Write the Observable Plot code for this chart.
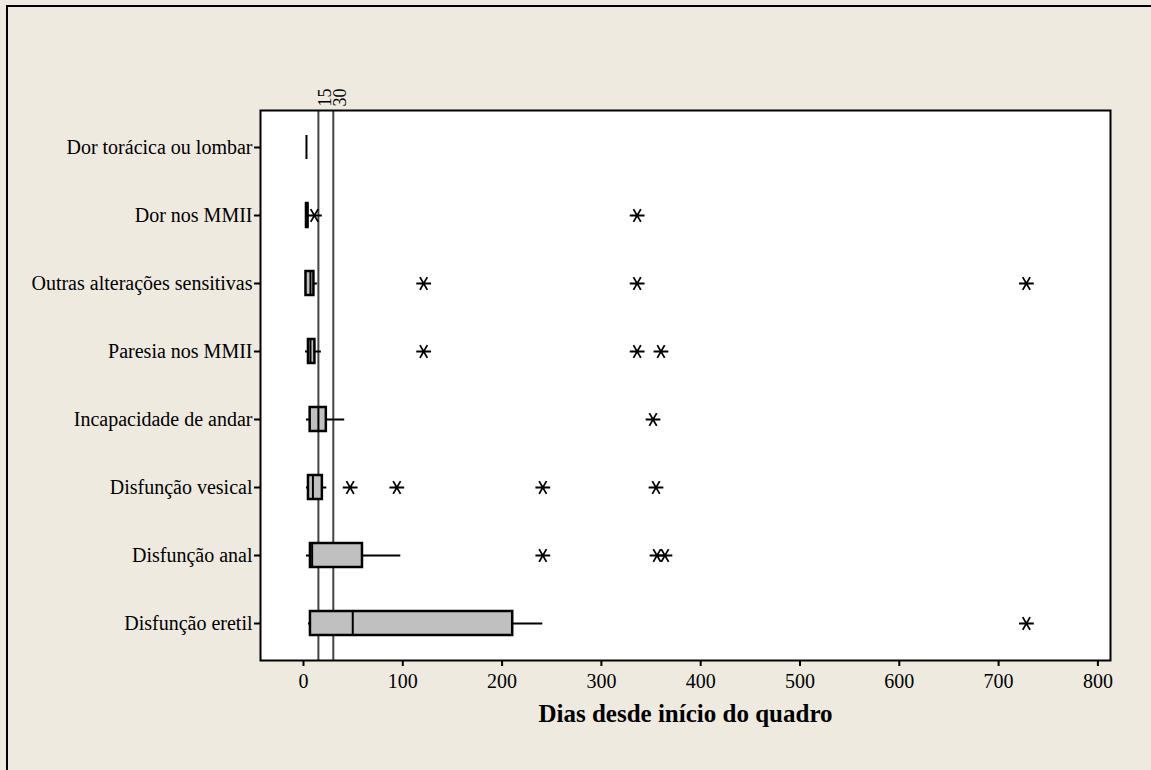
<!DOCTYPE html>
<html>
<head>
<meta charset="utf-8">
<script src="https://cdn.jsdelivr.net/npm/d3@7"></script>
<script src="https://cdn.jsdelivr.net/npm/@observablehq/plot@0.6"></script>
<style>
  html, body { margin: 0; padding: 0; background: #EEEAE0; width: 1151px; height: 770px; overflow: hidden; }
  #frame { position: absolute; left: 6px; top: 5px; width: 1300px; height: 900px; border-left: 2px solid #000; border-top: 2px solid #000; }
  #chart { position: absolute; left: 0; top: 0; }
  #chart svg text { font-family: 'Liberation Serif', 'Times New Roman', serif; }
</style>
</head>
<body>
<div id="frame"></div>
<div id="chart"></div>
<script>
const categories = [
  "Dor torácica ou lombar",
  "Dor nos MMII",
  "Outras alterações sensitivas",
  "Paresia nos MMII",
  "Incapacidade de andar",
  "Disfunção vesical",
  "Disfunção anal",
  "Disfunção eretil"
];
const whiskerLow  = [3, 3, 2.5, 2, 3, 3, 3, 5];
const q1          = [3, 3, 2.5, 5, 6.7, 5, 7, 7];
const median      = [3, 4, 7, 7, 15, 9.5, 8.7, 49.6];
const q3          = [3, 4.5, 10.5, 11.5, 23, 19, 59.4, 210.7];
const whiskerHigh = [3, 4.5, 14, 18, 41.5, 23.5, 98, 241];
const outliers = [
  [],
  [11, 336],
  [121, 336, 728],
  [121, 336, 360],
  [352],
  [47, 94, 241, 355],
  [241, 356, 364],
  [728]
];
const referenceLines = [15, 30];
const xTicks = [0, 100, 200, 300, 400, 500, 600, 700, 800];
const xLabel = "Dias desde início do quadro";

const boxes = categories.map((c, i) => ({
  cat: c, lo: whiskerLow[i], q1: q1[i], med: median[i], q3: q3[i], hi: whiskerHigh[i]
}));
const outlierRows = categories.flatMap((c, i) => outliers[i].map(v => ({cat: c, v})));

const serif = "'Liberation Serif', 'Times New Roman', serif";
const bandInset = 22;

const chart = Plot.plot({
  width: 1151,
  height: 770,
  marginLeft: 260,
  marginRight: 41,
  marginTop: 110,
  marginBottom: 110,
  style: { background: "transparent", fontFamily: serif, fontSize: "20px", color: "#000" },
  x: { domain: [-43.3, 812.7] },
  y: { domain: categories, padding: 0 },
  marks: [
    Plot.frame({ fill: "#ffffff", stroke: "none" }),
    Plot.ruleX(referenceLines, { stroke: "#444", strokeWidth: 2 }),
    Plot.text(referenceLines, {
      x: d => d, text: d => String(d), frameAnchor: "top", rotate: -90,
      textAnchor: "start", dy: -4, fontSize: 18, fill: "#000"
    }),
    Plot.ruleY(boxes, { y: "cat", x1: "lo", x2: "hi", stroke: "#000", strokeWidth: 2 }),
    Plot.barX(boxes, {
      y: "cat", x1: "q1", x2: "q3", fill: "#c0c0c0", stroke: "#000", strokeWidth: 2.5,
      insetTop: bandInset, insetBottom: bandInset
    }),
    Plot.tickX(boxes, {
      y: "cat", x: "med", stroke: "#000", strokeWidth: 2,
      insetTop: bandInset, insetBottom: bandInset
    }),
    Plot.dot(outlierRows, {
      y: "cat", x: "v", symbol: "asterisk", r: 7, rotate: 90, stroke: "#000", strokeWidth: 1.8
    }),
    Plot.frame({ stroke: "#000", strokeWidth: 2 }),
    Plot.axisY({
      tickSize: 6, tickPadding: 2, fontSize: 20, label: null,
      stroke: "#000", strokeWidth: 2, fill: "#000"
    }),
    Plot.axisX(xTicks, {
      tickSize: 6, tickPadding: 7, fontSize: 20, label: null,
      stroke: "#000", strokeWidth: 2, fill: "#000"
    }),
    Plot.text([xLabel], {
      text: d => d, frameAnchor: "bottom", dy: 61, fontSize: 25, fontWeight: "bold", fill: "#000"
    })
  ]
});
document.getElementById("chart").appendChild(chart);
</script>
</body>
</html>
